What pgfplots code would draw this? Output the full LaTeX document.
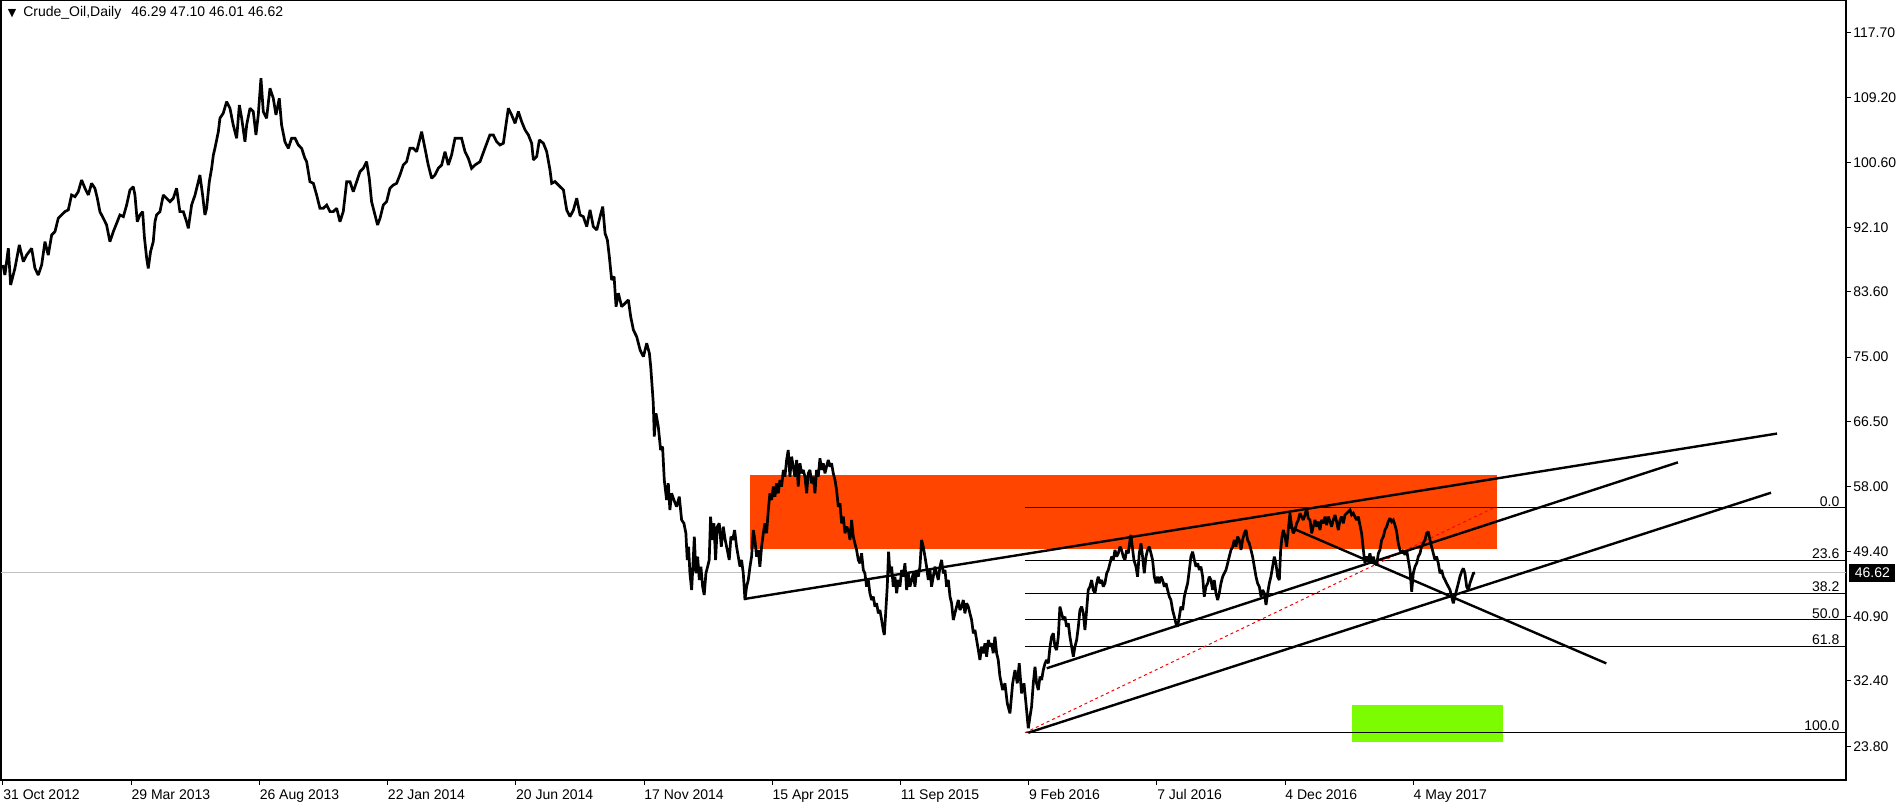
\documentclass[border=0pt]{standalone}
\usepackage{fontspec}
\setmainfont{Liberation Sans}
\newfontfamily\dejavu{DejaVu Sans}
\usepackage{pgfplots}
\usepackage{pgfplotstable}
\pgfplotsset{compat=1.18}
\definecolor{orangered}{RGB}{255,69,0}
\definecolor{lawngreen}{RGB}{124,252,0}
\definecolor{lastline}{RGB}{192,192,192}

\pgfplotstableread{
bar price
0 87.13
1.6 85.81
4.4 89.32
6.3 84.50
9.8 86.69
13.4 89.76
16.7 87.57
19.4 88.44
23.5 89.32
26.2 86.69
28.9 85.81
31.7 87.13
34.4 90.20
37.1 88.44
39.9 91.08
42.6 91.52
45.3 93.27
48.0 93.71
50.8 94.15
53.5 94.37
56.2 96.34
59.0 96.12
61.7 96.78
64.4 98.31
67.2 97.22
69.9 96.34
72.6 97.87
75.3 97.22
77.3 95.90
79.4 94.15
82.2 93.27
84.9 92.39
87.6 90.20
90.4 91.52
93.1 92.61
95.8 93.71
98.6 93.49
101.3 95.02
104.0 96.99
106.7 97.43
108.1 96.34
110.0 92.83
112.2 93.71
114.4 94.15
115.8 90.86
117.7 88.01
119.0 86.69
120.9 88.88
123.1 90.20
124.5 92.83
125.8 93.71
128.6 94.15
131.3 96.34
134.0 95.90
136.8 95.46
139.5 95.90
142.2 97.22
144.9 94.15
147.7 94.15
150.4 92.83
151.8 91.95
154.5 95.02
157.3 96.34
160.0 98.09
161.3 98.97
163.5 96.34
165.4 93.71
166.8 94.59
169.0 98.09
170.9 99.85
172.3 101.60
173.6 102.48
176.4 104.67
177.7 106.43
180.4 107.09
183.2 108.62
185.9 107.75
188.6 105.55
191.4 103.80
193.6 108.18
195.5 106.43
198.2 103.36
199.6 105.55
202.3 107.75
205.0 107.31
207.2 104.24
209.1 106.87
211.3 111.69
213.2 107.31
215.9 106.43
218.7 110.38
221.4 109.06
223.6 106.87
226.3 109.06
228.2 105.55
230.9 103.36
233.7 102.48
236.4 103.80
239.2 103.80
241.9 102.92
244.6 102.48
247.3 101.16
248.7 100.73
251.4 98.09
254.2 97.87
256.9 96.34
259.6 94.59
262.4 94.59
265.1 95.02
267.8 94.15
270.5 94.15
273.3 94.59
276.0 92.83
278.7 94.15
281.5 98.09
284.2 98.09
286.9 96.78
289.7 98.09
292.4 99.41
295.1 99.85
297.8 100.73
300.0 98.53
301.9 95.46
304.7 93.71
306.8 92.39
308.8 93.27
311.5 95.02
314.2 95.46
316.9 97.22
319.7 97.65
322.4 97.87
325.1 98.97
327.9 100.29
330.6 100.73
333.3 102.48
336.1 102.48
338.8 102.04
342.9 104.67
345.6 102.48
348.3 100.29
351.1 98.53
353.8 98.97
356.5 99.85
359.3 100.29
362.0 102.04
364.7 100.29
367.4 101.60
370.2 103.80
372.9 103.80
375.6 103.80
378.4 102.04
381.1 101.16
383.8 99.85
386.6 100.29
390.7 100.73
394.7 102.48
398.8 104.24
401.6 104.24
404.3 103.36
407.0 102.92
409.8 103.14
413.9 107.75
416.6 106.87
419.4 105.77
422.1 107.31
424.8 105.99
427.6 104.90
430.3 104.24
433.0 103.14
434.4 100.95
437.1 101.39
439.3 103.58
442.6 103.14
445.3 102.05
448.0 99.63
449.4 97.88
452.1 98.10
456.2 97.44
459.0 97.00
461.7 94.37
464.4 93.49
467.2 94.37
469.9 95.91
472.6 93.71
475.3 93.49
478.1 92.18
480.8 94.37
483.5 92.18
486.3 91.74
489.0 93.49
491.2 94.81
493.1 91.30
495.0 90.42
496.6 88.23
498.5 85.16
500.5 85.60
502.1 81.65
504.0 83.41
506.7 81.65
509.5 82.09
512.2 82.53
514.1 80.33
516.3 78.58
519.0 77.70
521.8 75.95
524.5 75.07
527.2 76.83
529.4 75.51
530.5 73.76
532.6 68.93
533.4 64.55
534.8 67.62
536.7 65.86
538.6 62.79
540.2 63.23
541.6 58.84
543.5 56.21
544.9 58.40
546.2 54.90
547.6 57.09
549.5 56.21
551.7 55.33
553.9 56.65
555.8 53.58
557.7 53.14
559.3 51.83
560.4 48.32
561.5 50.07
562.6 46.56
564.0 44.37
565.3 48.32
566.2 51.39
567.5 46.56
568.9 48.76
570.3 45.69
571.6 47.44
573.0 44.81
574.3 43.71
575.7 46.56
577.1 47.44
578.4 48.32
579.5 54.02
580.9 50.95
582.3 53.14
583.6 48.32
585.0 52.70
586.6 53.14
588.3 50.07
589.9 52.70
591.5 50.95
593.2 49.63
594.8 48.32
596.2 51.39
597.6 50.95
599.2 52.26
600.8 50.07
602.2 48.76
603.6 47.44
604.9 48.32
606.3 46.56
607.7 43.05
609.0 44.81
610.4 45.69
611.8 47.44
613.1 48.76
614.5 52.26
615.8 50.95
617.2 48.76
618.6 49.63
619.9 47.44
621.3 50.07
622.7 51.83
624.0 53.14
625.4 51.83
626.8 54.90
628.1 57.09
629.5 56.21
630.9 57.97
632.2 56.65
633.6 58.40
635.0 57.09
636.3 58.84
637.7 57.97
639.1 60.16
640.4 59.28
641.8 61.48
643.1 62.79
644.5 59.28
645.9 61.91
647.2 60.60
648.6 59.28
650.0 61.48
651.3 57.97
652.7 61.04
654.1 59.72
655.4 60.16
656.8 59.28
658.2 57.09
659.5 59.72
660.9 60.16
662.3 58.40
663.6 59.28
665.0 57.09
666.3 60.16
667.7 59.28
669.1 61.69
670.4 60.16
671.8 61.04
673.2 59.72
674.5 60.60
675.9 61.48
677.3 60.60
678.6 61.04
680.0 59.72
681.4 58.84
682.7 57.53
684.1 55.33
685.5 55.77
686.8 53.14
688.2 54.02
689.6 51.83
690.9 52.70
692.3 52.26
693.7 50.95
695.0 53.58
696.4 51.39
697.7 50.51
699.1 49.63
700.5 48.32
701.8 47.88
703.2 49.19
704.6 47.00
705.9 46.56
707.3 44.81
708.7 45.69
710.0 43.93
711.4 43.05
712.8 43.49
714.1 42.18
715.5 42.62
716.9 41.30
718.2 41.74
719.6 40.42
720.9 39.11
721.8 38.45
722.9 41.30
724.2 44.81
725.3 49.41
726.4 46.56
727.8 47.44
729.1 44.81
730.5 46.12
731.9 43.93
733.2 45.69
734.6 44.81
736.0 47.00
737.3 46.12
738.7 47.88
740.1 44.37
741.4 46.56
742.8 44.81
744.2 45.69
745.5 46.56
746.9 44.81
748.3 47.00
749.6 46.12
751.0 47.44
752.3 50.95
753.7 50.07
755.1 48.76
756.4 47.44
757.8 45.69
759.2 47.00
760.5 44.81
761.9 46.12
763.3 47.44
764.6 46.56
766.0 45.69
767.4 47.44
768.7 48.32
770.1 46.56
771.5 47.00
772.8 44.81
774.2 45.69
775.6 43.49
776.9 42.62
778.3 40.42
779.6 41.30
781.0 42.18
782.4 43.05
783.7 41.74
785.1 42.18
786.5 43.05
787.8 41.30
789.2 42.62
790.6 42.18
791.9 41.30
793.3 40.42
794.7 38.67
796.0 39.11
797.4 37.79
798.8 36.47
800.1 35.16
801.5 36.91
802.9 36.04
804.2 37.35
805.6 35.60
807.0 37.79
808.3 36.91
809.7 37.35
811.0 36.04
812.4 38.23
813.8 36.04
815.1 35.16
816.5 32.97
818.7 31.21
820.6 32.09
822.5 29.46
824.7 28.14
826.9 32.09
828.8 33.84
830.7 32.09
832.3 34.72
834.2 30.77
836.2 32.09
837.8 29.46
839.7 26.17
841.1 27.70
842.4 29.02
843.8 32.09
845.2 34.28
846.5 32.09
847.9 31.21
849.3 32.97
850.6 32.53
852.0 33.84
853.4 34.72
854.7 35.16
856.1 34.72
857.5 36.91
858.8 38.23
860.2 38.67
861.5 36.91
862.9 36.47
864.3 38.23
865.6 42.18
867.0 41.30
868.4 40.42
869.7 40.86
871.1 39.54
872.5 39.98
873.8 38.23
875.2 36.91
876.6 35.60
877.9 36.91
879.3 37.79
880.7 39.54
882.0 41.74
883.4 42.18
884.8 41.30
886.1 39.11
887.5 41.74
888.8 44.37
890.2 44.81
891.6 45.68
892.9 44.37
894.3 43.93
895.7 45.25
897.0 46.12
898.4 45.25
899.8 45.68
901.1 44.81
902.5 45.25
903.9 46.56
905.2 47.00
906.6 47.88
908.0 48.76
909.3 48.32
910.7 49.63
912.1 48.76
913.4 49.19
914.8 50.07
916.1 49.63
917.5 48.76
918.9 48.32
920.2 49.63
921.6 49.19
923.0 50.95
923.8 51.61
924.9 50.07
926.2 48.32
927.9 47.44
929.2 46.12
930.6 49.19
932.0 50.51
933.3 48.76
934.7 46.56
936.1 48.76
937.4 49.63
938.8 50.07
940.2 49.19
941.5 48.32
942.9 46.12
944.3 45.25
945.6 46.12
947.0 45.25
948.4 46.12
949.7 45.68
951.1 44.81
952.5 45.25
953.8 44.37
955.2 43.49
956.5 43.05
957.9 41.74
959.3 40.86
960.6 39.98
962.0 39.54
963.4 40.86
964.7 42.18
966.1 41.74
967.5 43.49
968.8 44.37
970.2 45.25
971.6 47.00
972.9 48.76
974.3 49.41
975.7 48.32
977.0 47.44
978.4 47.88
979.8 47.00
981.1 47.44
982.5 46.12
983.8 43.49
985.2 44.81
986.6 45.25
987.9 46.12
989.3 45.68
990.7 44.37
992.0 45.68
993.4 43.93
994.8 43.05
996.1 43.93
997.5 45.25
998.9 46.12
1000.2 46.56
1001.6 47.00
1003.0 47.88
1004.3 48.76
1005.7 49.63
1007.1 50.07
1008.4 50.95
1009.8 50.07
1011.1 51.39
1012.5 50.95
1013.9 49.63
1015.2 50.95
1016.6 51.83
1018.0 52.26
1019.3 50.95
1020.7 50.51
1022.1 49.63
1023.4 48.76
1024.8 47.44
1026.2 46.12
1027.5 45.25
1028.9 44.81
1030.3 43.49
1031.6 44.37
1033.0 43.93
1034.4 42.40
1035.7 43.93
1037.1 45.25
1038.4 46.12
1039.8 47.44
1041.2 48.76
1042.5 47.88
1043.9 46.12
1045.3 45.68
1046.4 49.63
1047.5 51.39
1048.6 52.26
1050.0 51.39
1051.3 50.07
1052.6 52.26
1054.0 54.46
1055.4 52.70
1056.7 51.83
1058.1 52.26
1059.5 53.14
1060.8 53.58
1062.2 54.46
1063.6 54.02
1064.9 53.58
1066.3 54.24
1067.7 55.12
1069.0 53.80
1070.4 53.58
1071.8 51.83
1073.1 52.70
1074.5 53.58
1075.9 52.70
1077.2 53.36
1078.6 52.26
1079.9 53.58
1081.3 53.14
1082.7 54.02
1084.0 52.92
1085.4 54.02
1086.8 53.36
1088.1 52.70
1089.5 53.58
1090.9 54.24
1092.2 53.36
1093.6 52.26
1095.0 53.58
1096.3 54.02
1097.7 53.14
1099.1 54.24
1100.4 54.46
1101.8 54.68
1103.2 54.90
1104.5 54.24
1105.9 54.46
1107.2 54.02
1108.6 53.58
1110.0 54.02
1111.3 52.92
1112.7 51.83
1114.1 49.63
1115.4 47.88
1116.8 48.76
1118.2 48.32
1119.5 49.19
1120.9 47.88
1122.3 48.76
1123.6 47.88
1125.0 47.66
1126.4 49.19
1127.7 49.63
1129.1 50.95
1130.5 51.39
1131.8 52.26
1133.2 52.70
1134.5 53.36
1135.9 53.80
1137.3 53.36
1138.6 53.58
1140.0 52.92
1141.4 52.04
1142.7 50.51
1144.1 49.63
1145.5 49.19
1146.8 49.63
1148.2 48.97
1149.6 49.63
1150.9 48.32
1152.3 47.00
1153.7 44.15
1155.0 46.56
1156.4 47.44
1157.8 47.88
1159.1 48.76
1160.5 49.19
1161.8 50.07
1163.2 50.51
1164.6 50.95
1165.9 51.83
1167.3 52.04
1168.7 50.95
1170.0 50.07
1171.4 49.19
1172.8 48.32
1174.1 48.76
1175.5 47.88
1176.9 46.56
1178.2 47.00
1179.6 46.12
1181.0 45.68
1182.3 45.25
1183.7 44.81
1185.1 44.37
1186.4 43.49
1187.8 42.61
1189.1 43.49
1190.5 44.37
1191.9 45.25
1193.2 46.12
1194.6 46.78
1196.0 47.22
1197.3 46.56
1198.7 44.81
1200.1 44.37
1201.4 45.25
1202.8 45.90
1204.2 46.56
1205.5 46.62
}\crude

\begin{document}
\begin{tikzpicture}
\begin{axis}[
  scale only axis, width=922.5pt, height=389.75pt,
  xmin=-1.6, xmax=1509.4, ymin=19.37, ymax=121.93,
  clip=false,
  axis line style={black, line width=0.6pt},
  xtick={0,105,210,315,420,525,630,735,840,945,1050,1155},
  xticklabels={31 Oct 2012,29 Mar 2013,26 Aug 2013,22 Jan 2014,20 Jun 2014,17 Nov 2014,15 Apr 2015,11 Sep 2015,9 Feb 2016,7 Jul 2016,4 Dec 2016,4 May 2017},
  ytick={23.8,32.4,40.9,49.4,58,66.5,75,83.6,92.1,100.6,109.2,117.7},
  yticklabels={23.80,32.40,40.90,49.40,58.00,66.50,75.00,83.60,92.10,100.60,109.20,117.70},
  xtick pos=left, ytick pos=right, yticklabel pos=right,
  tick align=outside, major tick length=2.5pt,
  tick style={black, line width=0.5pt},
  xticklabel style={anchor=north west, inner sep=0pt, yshift=-2pt, font=\fontsize{7}{8}\selectfont},
  yticklabel style={anchor=west, inner sep=0pt, xshift=1pt, font=\fontsize{7}{8}\selectfont},
]
\coordinate (bl) at (rel axis cs:0,0);
\coordinate (tr) at (rel axis cs:1,1);
% zones
\addplot[fill=orangered, draw=none] coordinates {(611.8,49.74) (1223.3,49.74) (1223.3,59.56) (611.8,59.56)} -- cycle;
\addplot[fill=lawngreen, draw=none] coordinates {(1104.8,24.38) (1228.2,24.38) (1228.2,29.2) (1104.8,29.2)} -- cycle;
% last price line
\addplot[lastline, line width=0.5pt] coordinates {(-1.6,46.62) (1509.4,46.62)};
% fibonacci levels
\addplot[black, line width=0.5pt] coordinates {(837,55.18) (1509.4,55.18)};
\addplot[black, line width=0.5pt] coordinates {(837,48.22) (1509.4,48.22)};
\addplot[black, line width=0.5pt] coordinates {(837,43.91) (1509.4,43.91)};
\addplot[black, line width=0.5pt] coordinates {(837,40.43) (1509.4,40.43)};
\addplot[black, line width=0.5pt] coordinates {(837,36.95) (1509.4,36.95)};
\addplot[black, line width=0.5pt] coordinates {(837,25.68) (1509.4,25.68)};
\addplot[red, line width=0.5pt, dash pattern=on 1.5pt off 1.5pt] coordinates {(837,25.59) (1220.1,55.12)};
% price
\addplot[black, line width=1.35pt, line join=miter, miter limit=2] table[x=bar, y=price] {\crude};
% trend lines
\addplot[black, line width=1.2pt] coordinates {(606.9,43.18) (1452.9,64.95)};
\addplot[black, line width=1.2pt] coordinates {(854.8,34.07) (1371.7,61.16)};
\addplot[black, line width=1.2pt] coordinates {(839.7,25.59) (1448.0,57.17)};
\addplot[black, line width=1.2pt] coordinates {(1053.6,52.66) (1313.1,34.71)};
% fib labels
\tikzset{fl/.style={anchor=south east, inner sep=0.6pt, font=\fontsize{7}{8}\selectfont}}
\node[fl] at (axis cs:1505.3,55.18) {0.0};
\node[fl] at (axis cs:1505.3,48.22) {23.6};
\node[fl] at (axis cs:1505.3,43.91) {38.2};
\node[fl] at (axis cs:1505.3,40.43) {50.0};
\node[fl] at (axis cs:1505.3,36.95) {61.8};
\node[fl] at (axis cs:1505.3,25.68) {100.0};
% current price box
\node[fill=black, text=white, anchor=west, inner sep=0pt, minimum width=23pt, minimum height=9pt, font=\fontsize{7}{8}\selectfont] at ([xshift=1.5pt]axis cs:1509.4,46.62) {46.62};
% title
\node[anchor=west, inner sep=0pt, font=\fontsize{7}{8}\selectfont] at (rel axis cs:0.0035,0.9846) {{\dejavu\fontsize{5.5}{6}\selectfont ▼}\hspace{3.5pt}Crude\_Oil,Daily\hspace{5pt}46.29 47.10 46.01 46.62};
\end{axis}
\pgfresetboundingbox
\path[use as bounding box] ([xshift=-0.5pt,yshift=-13.5pt]bl) rectangle ([xshift=26pt,yshift=0.25pt]tr);
\end{tikzpicture}
\end{document}
